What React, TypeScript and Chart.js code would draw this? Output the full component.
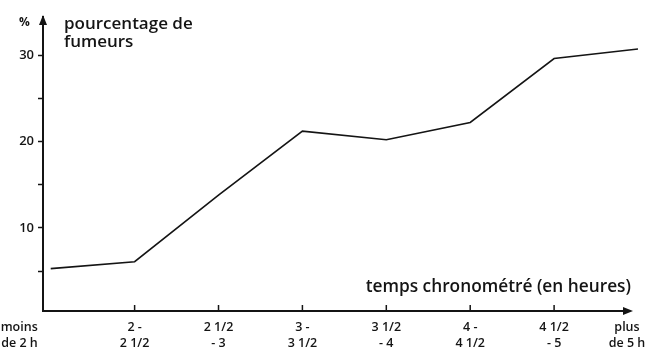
import { useEffect, useRef } from "react";
import { Chart, registerables } from "chart.js";
Chart.register(...registerables);

const categories: string[][] = [
  ["moins", "de 2 h"],
  ["2 -", "2 1/2"],
  ["2 1/2", "- 3"],
  ["3 -", "3 1/2"],
  ["3 1/2", "- 4"],
  ["4 -", "4 1/2"],
  ["4 1/2", "- 5"],
  ["plus", "de 5 h"],
];
const smokersPct = [5.3, 6.1, 13.8, 21.2, 20.2, 22.2, 29.6, 30.7];
const yTicks = [5, 10, 15, 20, 25, 30];
const yTickLabels = [10, 20, 30];
const yUnit = "%";
const yTitle = ["pourcentage de", "fumeurs"];
const xTitle = "temps chronométré (en heures)";

const FONT = "'Open Sans', 'DejaVu Sans', sans-serif";
const INK = "#141414";

const decor = {
  id: "decor",
  afterDraw(chart: any) {
    const { ctx, chartArea } = chart;
    const xs = chart.scales.x;
    const left = chartArea.left;
    const bottom = chartArea.bottom;
    const top = chartArea.top;
    ctx.save();
    ctx.fillStyle = INK;
    ctx.strokeStyle = INK;
    // y arrow head
    ctx.beginPath();
    ctx.moveTo(left, top - 2);
    ctx.lineTo(left - 4, top + 8);
    ctx.lineTo(left + 4, top + 8);
    ctx.closePath();
    ctx.fill();
    // x axis line + arrow
    const xEnd = chartArea.right - 5;
    ctx.lineWidth = 2;
    ctx.beginPath();
    ctx.moveTo(left - 1, bottom);
    ctx.lineTo(xEnd - 6, bottom);
    ctx.stroke();
    ctx.beginPath();
    ctx.moveTo(xEnd, bottom);
    ctx.lineTo(xEnd - 10, bottom - 4);
    ctx.lineTo(xEnd - 10, bottom + 4);
    ctx.closePath();
    ctx.fill();
    // x ticks
    ctx.lineWidth = 1.5;
    for (let i = 1; i < categories.length - 1; i++) {
      const px = xs.getPixelForValue(i);
      ctx.beginPath();
      ctx.moveTo(px, bottom - 6);
      ctx.lineTo(px, bottom);
      ctx.stroke();
    }
    // x labels
    ctx.font = `600 12.5px ${FONT}`;
    ctx.textBaseline = "alphabetic";
    categories.forEach((lines, i) => {
      let px = xs.getPixelForValue(i);
      let align: CanvasTextAlign = "center";
      if (i === 0) {
        align = "right";
        px -= 13;
      } else if (i === categories.length - 1) {
        px -= 11;
      }
      ctx.textAlign = align;
      lines.forEach((t, j) => ctx.fillText(t, px, bottom + 20 + j * 16));
    });
    // y unit and title
    ctx.textAlign = "left";
    ctx.font = `bold 12px ${FONT}`;
    ctx.fillText(yUnit, 19, 26);
    ctx.font = `600 17px ${FONT}`;
    yTitle.forEach((t, j) => ctx.fillText(t, 64, 29 + j * 18));
    // x title
    ctx.textAlign = "right";
    ctx.font = `600 17.3px ${FONT}`;
    ctx.fillText(xTitle, 631, 292);
    ctx.restore();
  },
};

export default function App() {
  const ref = useRef<HTMLCanvasElement>(null);
  useEffect(() => {
    if (!ref.current) return;
    const chart = new Chart(ref.current, {
      type: "line",
      data: {
        datasets: [
          {
            data: smokersPct.map((v, i) => ({ x: i, y: v })),
            borderColor: INK,
            borderWidth: 1.6,
            pointRadius: 0,
            tension: 0,
            fill: false,
          },
        ],
      },
      options: {
        animation: false,
        responsive: false,
        layout: { padding: { top: 17, bottom: 43, right: 27, left: 0 } },
        plugins: { legend: { display: false }, tooltip: { enabled: false } },
        scales: {
          x: { type: "linear", min: -0.092, max: 7, display: false },
          y: {
            type: "linear",
            min: 0.4,
            max: 34.4,
            afterFit: (s: any) => {
              s.width = 43;
            },
            afterBuildTicks: (s: any) => {
              s.ticks = yTicks.map((v) => ({ value: v }));
            },
            ticks: {
              callback: (v: any) => (yTickLabels.includes(Number(v)) ? String(v) : ""),
              font: { family: FONT, size: 13, weight: "600" },
              color: INK,
              padding: 4,
            },
            grid: {
              drawOnChartArea: false,
              tickLength: 5,
              tickWidth: 1.5,
              tickColor: INK,
            },
            border: { display: true, color: INK, width: 2 },
          },
        },
      },
      plugins: [decor],
    } as any);
    return () => chart.destroy();
  }, []);
  return (
    <div style={{ position: "fixed", left: 0, top: 0, width: 665, height: 354, background: "#fff" }}>
      <canvas ref={ref} width={665} height={354} style={{ display: "block" }} />
    </div>
  );
}
